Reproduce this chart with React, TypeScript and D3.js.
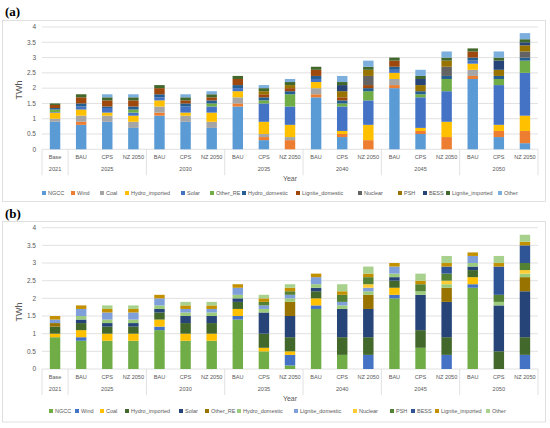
import React from 'react'
import * as d3 from 'd3'

// category axis: scenario row and year row
const scenarios = [
  'Base',
  'BAU', 'CPS', 'NZ 2050',
  'BAU', 'CPS', 'NZ 2050',
  'BAU', 'CPS', 'NZ 2050',
  'BAU', 'CPS', 'NZ 2050',
  'BAU', 'CPS', 'NZ 2050',
  'BAU', 'CPS', 'NZ 2050',
]
const years = ['2021', '2025', '2030', '2035', '2040', '2045', '2050']
const seriesNames = [
  'NGCC', 'Wind', 'Coal', 'Hydro_imported', 'Solar', 'Other_RE', 'Hydro_domestic',
  'Lignite_domestic', 'Nuclear', 'PSH', 'BESS', 'Lignite_imported', 'Other',
]
const yTicks = [0, 0.5, 1, 1.5, 2, 2.5, 3, 3.5, 4]

// panel (a) values, TWh
const ngccA = [0.9, 0.8, 0.9, 0.7, 1.1, 0.9, 0.7, 1.4, 0.3, 0, 1.7, 0.4, 0, 2.0, 0.5, 0, 2.3, 0.4, 0.2]
const windA = [0, 0.1, 0, 0, 0.1, 0, 0, 0.1, 0.1, 0.3, 0.1, 0.1, 0.3, 0.1, 0.1, 0.4, 0.1, 0.2, 0.4]
const coalA = [0.1, 0.2, 0.2, 0.2, 0.2, 0.2, 0.2, 0.2, 0.1, 0.1, 0.2, 0, 0, 0.2, 0, 0, 0.2, 0, 0]
const hydroImpA = [0.2, 0.2, 0.1, 0.2, 0.2, 0.1, 0.3, 0.2, 0.4, 0.4, 0.2, 0.1, 0.5, 0.2, 0.1, 0.5, 0.2, 0.2, 0.5]
const solarA = [0.02, 0.1, 0.15, 0.1, 0.1, 0.2, 0.2, 0.1, 0.6, 0.6, 0.1, 0.8, 0.8, 0.1, 1.0, 1.0, 0.1, 1.3, 1.4]
const otherReA = [0.08, 0, 0, 0.1, 0, 0, 0.1, 0, 0.1, 0.4, 0, 0.1, 0.3, 0, 0.1, 0.4, 0, 0.2, 0.4]
const hydroDomA = [0.05, 0.1, 0.05, 0.1, 0.1, 0.1, 0.1, 0.1, 0.1, 0.1, 0.1, 0.1, 0.1, 0.1, 0.1, 0.1, 0.1, 0.1, 0.1]
const ligDomA = [0.1, 0.2, 0.2, 0.2, 0.2, 0.1, 0.1, 0.2, 0.1, 0.1, 0.2, 0.1, 0.1, 0.2, 0, 0, 0.2, 0, 0]
const nuclearA = [0, 0, 0, 0, 0, 0, 0, 0, 0, 0, 0, 0, 0.3, 0, 0, 0.3, 0, 0, 0.2]
const pshA = [0, 0, 0, 0, 0, 0, 0, 0, 0.1, 0.1, 0, 0.2, 0.2, 0, 0.2, 0.2, 0, 0.2, 0.2]
const bessA = [0, 0, 0, 0, 0, 0, 0, 0, 0, 0, 0, 0.2, 0, 0, 0.2, 0, 0, 0.3, 0.1]
const ligImpA = [0.05, 0.1, 0.1, 0.1, 0.1, 0.1, 0.1, 0.1, 0.1, 0.1, 0.1, 0.1, 0.1, 0.1, 0.1, 0.1, 0.1, 0.1, 0.1]
const otherA = [0, 0, 0.1, 0.1, 0, 0.1, 0.1, 0, 0.1, 0.1, 0, 0.2, 0.2, 0, 0.2, 0.2, 0, 0.2, 0.2]

// panel (b) values, TWh
const ngccB = [0.9, 0.8, 0.8, 0.8, 1.1, 0.8, 0.8, 1.4, 0.5, 0.1, 1.7, 0.4, 0, 2.0, 0.6, 0, 2.3, 0, 0]
const windB = [0, 0.1, 0, 0, 0.1, 0, 0, 0.1, 0, 0.3, 0.1, 0, 0.4, 0.1, 0, 0.4, 0.1, 0, 0.4]
const coalB = [0.1, 0.2, 0.2, 0.2, 0.2, 0.2, 0.2, 0.2, 0.1, 0.1, 0.2, 0, 0, 0.2, 0, 0, 0.2, 0, 0]
const hydroImpB = [0.2, 0.2, 0.2, 0.2, 0.2, 0.3, 0.3, 0.2, 0.4, 0.4, 0.2, 0.5, 0.5, 0.2, 0.5, 0.5, 0.2, 0.5, 0.5]
const solarB = [0, 0.1, 0.1, 0.1, 0.1, 0.2, 0.2, 0.1, 0.6, 0.6, 0.1, 0.8, 0.8, 0.1, 1.0, 1.0, 0.1, 1.3, 1.3]
const otherReB = [0.1, 0, 0, 0, 0, 0, 0, 0, 0, 0.4, 0, 0, 0.4, 0, 0, 0.4, 0, 0, 0.4]
const hydroDomB = [0, 0.1, 0.1, 0.1, 0.1, 0.1, 0.1, 0.1, 0.1, 0.1, 0.1, 0.1, 0.1, 0.1, 0.1, 0.1, 0.1, 0.1, 0.1]
const ligDomB = [0.1, 0.2, 0.2, 0.2, 0.2, 0.1, 0.1, 0.2, 0.1, 0.1, 0.2, 0.1, 0.1, 0.2, 0, 0, 0.2, 0, 0]
const nuclearB = [0, 0, 0, 0, 0, 0, 0, 0, 0, 0, 0, 0, 0.1, 0, 0, 0.1, 0, 0, 0.1]
const pshB = [0, 0, 0, 0, 0, 0, 0, 0, 0.1, 0.1, 0, 0.2, 0.2, 0, 0.2, 0.2, 0, 0.2, 0.2]
const bessB = [0, 0, 0, 0, 0, 0, 0, 0, 0, 0, 0, 0, 0, 0, 0, 0.2, 0, 0.8, 0.5]
const ligImpB = [0.1, 0.1, 0.1, 0.1, 0.1, 0.1, 0.1, 0.1, 0.1, 0.1, 0.1, 0.1, 0.1, 0.1, 0.1, 0.1, 0.1, 0.1, 0.1]
const otherB = [0, 0, 0.1, 0.1, 0, 0.1, 0.1, 0, 0.1, 0.1, 0, 0.2, 0.2, 0, 0.2, 0.2, 0, 0.2, 0.2]

const colorsA = [
  '#5B9BD5', '#ED7D31', '#A5A5A5', '#FFC000', '#4472C4', '#70AD47', '#255E91',
  '#9E480E', '#636363', '#997300', '#264478', '#43682B', '#7CAFDD',
]
const colorsB = [
  '#70AD47', '#4472C4', '#FFC000', '#43682B', '#264478', '#997300', '#9CCB7B',
  '#7F9FDB', '#FFCD33', '#548235', '#2F5597', '#C39100', '#A9D18E',
]

const legendXA = [44, 73, 102, 127, 183, 212, 244, 298, 360, 400, 425, 448, 500]
const legendXB = [51, 77, 102, 127, 181, 207, 239, 296, 355, 392, 413, 437, 488]

const TEXT = '#595959'
const GRID = '#D9D9D9'
const FONT = "'Liberation Sans', Arial, sans-serif"

interface PanelProps {
  label: string
  values: number[][]
  colors: string[]
  legendX: number[]
  frameY: number
  frameH: number
  labelY: number
  y0: number
  yTop: number
  twhY: number
  legendY: number
}

const Panel: React.FC<PanelProps> = ({ label, values, colors, legendX, frameY, frameH, labelY, y0, yTop, twhY, legendY }) => {
  const left = 42
  const right = 538

  const x = d3.scaleBand<number>()
    .domain(d3.range(scenarios.length))
    .range([left, right])
    .paddingInner(0.6)
    .paddingOuter(0.3)
  const y = d3.scaleLinear().domain([0, 4]).range([y0, yTop])

  const rows = scenarios.map((_, i) => {
    const r: Record<string, number> = {}
    seriesNames.forEach((k, s) => { r[k] = values[s][i] })
    return r
  })
  const stacked = d3.stack<Record<string, number>>().keys(seriesNames)(rows)

  const step = x.step()
  // left edge of a category slot
  const edge = (i: number) => (i >= scenarios.length ? right : (x(i) as number) - step * 0.3)
  // Base alone, then 3 scenarios per year
  const groups = years.map((yr, j) => {
    const start = j === 0 ? 0 : 1 + 3 * (j - 1)
    const count = j === 0 ? 1 : 3
    return { yr, start, count }
  })
  const bounds = groups.map(g => edge(g.start)).concat([right])

  return (
    <g fontFamily={FONT}>
      <rect x={2.5} y={frameY} width={543} height={frameH} fill="#fff" stroke={GRID} strokeWidth={0.8} />
      <text x={5} y={labelY} fontFamily="'Liberation Serif', 'Times New Roman', serif" fontWeight="bold" fontSize={13} fill="#000">{label}</text>

      {yTicks.map(t => (
        <g key={t}>
          <line x1={left} x2={right} y1={y(t)} y2={y(t)} stroke={GRID} strokeWidth={0.8} />
          <text x={36} y={y(t) + 2.3} textAnchor="end" fontSize={6.5} fill={TEXT}>{t}</text>
        </g>
      ))}

      {stacked.map((s, si) => (
        <g key={s.key} fill={colors[si]}>
          {s.map((d, i) => (d[1] - d[0] > 0 ? (
            <rect key={i} x={x(i)} width={x.bandwidth()} y={y(d[1])} height={y(d[0]) - y(d[1])} />
          ) : null))}
        </g>
      ))}

      {bounds.map((b, i) => (
        <line key={i} x1={b} x2={b} y1={y0} y2={y0 + 26} stroke={GRID} strokeWidth={0.8} />
      ))}

      {scenarios.map((s, i) => (
        <text key={i} x={(x(i) as number) + x.bandwidth() / 2} y={y0 + 10} textAnchor="middle" fontSize={5.6} fill={TEXT}>{s}</text>
      ))}
      {groups.map((g, j) => (
        <text key={j} x={(edge(g.start) + edge(g.start + g.count)) / 2}
          y={y0 + 21.5} textAnchor="middle" fontSize={5.6} fill={TEXT}>{g.yr}</text>
      ))}
      <text x={290} y={y0 + 32} textAnchor="middle" fontSize={7} fill={TEXT}>Year</text>

      <text transform={`translate(22,${twhY}) rotate(-90)`} textAnchor="middle" fontSize={9} fill={TEXT}>TWh</text>

      {seriesNames.map((n, i) => (
        <g key={n}>
          <rect x={legendX[i] - 2} y={legendY - 2} width={4} height={4} fill={colors[i]} />
          <text x={legendX[i] + 4} y={legendY + 2} fontSize={5.5} fill={TEXT}>{n}</text>
        </g>
      ))}
    </g>
  )
}

export default function App() {
  const valuesA = [ngccA, windA, coalA, hydroImpA, solarA, otherReA, hydroDomA, ligDomA, nuclearA, pshA, bessA, ligImpA, otherA]
  const valuesB = [ngccB, windB, coalB, hydroImpB, solarB, otherReB, hydroDomB, ligDomB, nuclearB, pshB, bessB, ligImpB, otherB]
  return (
    <svg width={550} height={428} style={{ position: 'absolute', left: 0, top: 0, background: '#fff' }}>
      <Panel label="(a)" values={valuesA} colors={colorsA} legendX={legendXA}
        frameY={20.5} frameH={181} labelY={16} y0={149.3} yTop={27} twhY={90} legendY={193} />
      <Panel label="(b)" values={valuesB} colors={colorsB} legendX={legendXB}
        frameY={221.5} frameH={200.5} labelY={218} y0={369} yTop={227.7} twhY={312} legendY={411} />
    </svg>
  )
}
